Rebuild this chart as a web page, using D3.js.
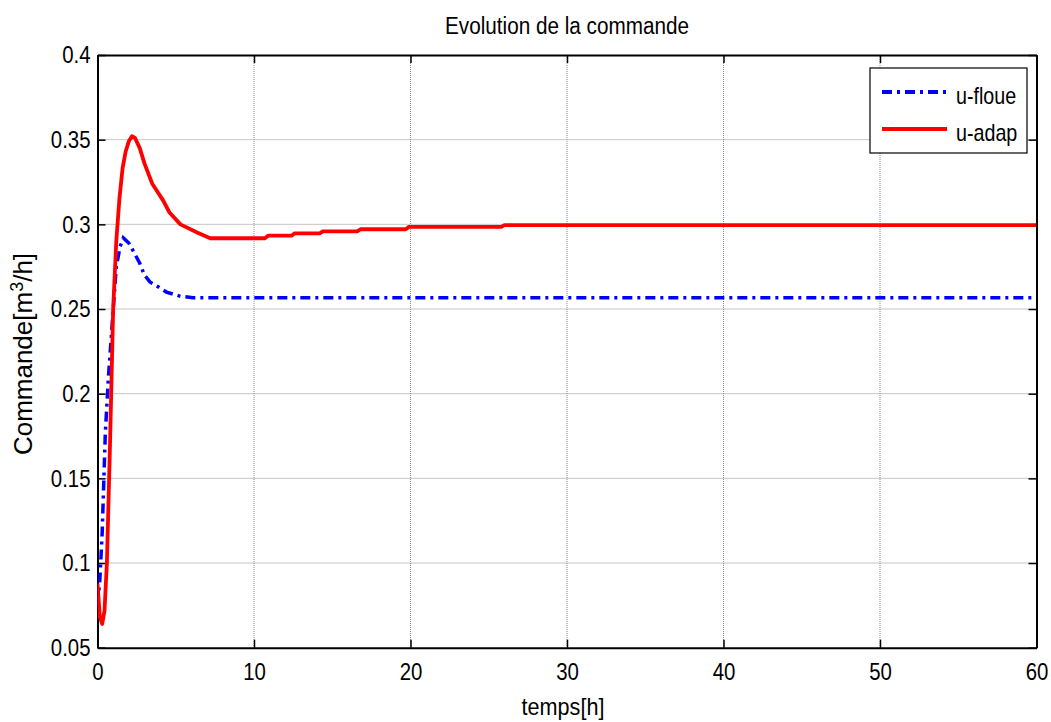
<!DOCTYPE html>
<html>
<head>
<meta charset="utf-8">
<script src="https://d3js.org/d3.v7.min.js"></script>
<style>
  body { margin: 0; background: #fff; }
  text { font-family: "Liberation Sans", Arial, sans-serif; fill: #000; }
</style>
</head>
<body>
<script>
// u-adap (red, solid)
var tAdap = [0, 0.15, 0.3, 0.45, 0.6, 0.8, 1.0, 1.2, 1.4, 1.6, 1.8, 2.0, 2.2, 2.4, 2.7, 3.0, 3.5, 4.2, 4.6, 5.3, 6.4, 7.2,
             10.7, 10.9, 12.4, 12.6, 14.2, 14.4, 16.6, 16.8, 19.7, 19.9, 25.8, 26.0, 60];
var uAdap = [0.088, 0.068, 0.064, 0.072, 0.1, 0.17, 0.25, 0.29, 0.315, 0.333, 0.343, 0.349, 0.352, 0.351, 0.345, 0.336, 0.324, 0.314, 0.307, 0.300, 0.295, 0.2918,
             0.2918, 0.2933, 0.2933, 0.2947, 0.2947, 0.2959, 0.2959, 0.2971, 0.2971, 0.2985, 0.2985, 0.2995, 0.2995];
// u-floue (blue, dash-dot)
var tFloue = [0, 0.15, 0.3, 0.5, 0.7, 0.9, 1.2, 1.45, 1.65, 2.0, 2.3, 2.7, 3.0, 3.35, 3.9, 4.4, 5.3, 6.1, 60];
var uFloue = [0.075, 0.09, 0.118, 0.177, 0.21, 0.236, 0.275, 0.287, 0.292, 0.289, 0.284, 0.277, 0.270, 0.266, 0.263, 0.260, 0.2575, 0.2567, 0.2567];

var xTicks = [0, 10, 20, 30, 40, 50, 60];
var yTicks = [0.05, 0.1, 0.15, 0.2, 0.25, 0.3, 0.35, 0.4];
var yTickLabels = ["0.05", "0.1", "0.15", "0.2", "0.25", "0.3", "0.35", "0.4"];

var W = 1051, H = 722;
var mLeft = 97.5, mRight = 1036.5, mTop = 55, mBottom = 647.7;

var svg = d3.select("body").append("svg").attr("width", W).attr("height", H);

// squeeze text horizontally (reference font is narrow)
function condense(sel, f) {
  sel.each(function() {
    var L = this.getComputedTextLength();
    d3.select(this).attr("textLength", L * f).attr("lengthAdjust", "spacingAndGlyphs");
  });
}

var x = d3.scaleLinear().domain([0, 60]).range([mLeft, mRight]);
var y = d3.scaleLinear().domain([0.05, 0.4]).range([mBottom, mTop]);

// grid
var grid = svg.append("g");
grid.selectAll(".gx").data(xTicks.slice(1, -1)).enter().append("line")
  .attr("x1", d => x(d)).attr("x2", d => x(d)).attr("y1", mTop).attr("y2", mBottom)
  .attr("stroke", "#8c8c8c").attr("stroke-width", 1).attr("stroke-dasharray", "1,1");
grid.selectAll(".gy").data(yTicks.slice(1, -1)).enter().append("line")
  .attr("y1", d => y(d)).attr("y2", d => y(d)).attr("x1", mLeft).attr("x2", mRight)
  .attr("stroke", "#8c8c8c").attr("stroke-width", 1).attr("stroke-dasharray", "1,1");

// axes (ticks inside, on all sides)
var xAxis = svg.append("g").attr("transform", "translate(0," + mBottom + ")")
  .call(d3.axisBottom(x).tickValues(xTicks).tickSizeInner(-8).tickSizeOuter(0).tickPadding(15).tickFormat(d3.format("d")));
var xAxisTop = svg.append("g").attr("transform", "translate(0," + mTop + ")")
  .call(d3.axisTop(x).tickValues(xTicks).tickSizeInner(-8).tickSizeOuter(0).tickFormat(""));
var yAxis = svg.append("g").attr("transform", "translate(" + mLeft + ",0)")
  .call(d3.axisLeft(y).tickValues(yTicks).tickSizeInner(-8).tickSizeOuter(0).tickPadding(7)
    .tickFormat((d, i) => yTickLabels[i]));
var yAxisR = svg.append("g").attr("transform", "translate(" + mRight + ",0)")
  .call(d3.axisRight(y).tickValues(yTicks).tickSizeInner(-8).tickSizeOuter(0).tickFormat(""));

[xAxis, xAxisTop, yAxis, yAxisR].forEach(function(a) {
  a.select(".domain").attr("stroke", "#000").attr("stroke-width", 2);
  a.selectAll(".tick line").attr("stroke", "#000").attr("stroke-width", 1.5);
  a.selectAll(".tick text").style("font-size", "24px").attr("fill", "#000")
    .style("font-family", "'Liberation Sans', Arial, sans-serif");
});
xAxis.selectAll(".tick text").attr("dy", "0.71em");
condense(xAxis.selectAll(".tick text"), 0.85);
condense(yAxis.selectAll(".tick text"), 0.85);

// clip
svg.append("clipPath").attr("id", "clip").append("rect")
  .attr("x", mLeft).attr("y", mTop).attr("width", mRight - mLeft).attr("height", mBottom - mTop);

var line = d3.line().x(d => x(d[0])).y(d => y(d[1]));

svg.append("path").datum(d3.zip(tFloue, uFloue))
  .attr("clip-path", "url(#clip)")
  .attr("d", line).attr("fill", "none").attr("stroke", "#0000ff")
  .attr("stroke-width", 3.5).attr("stroke-dasharray", "10,5,3,5");

svg.append("path").datum(d3.zip(tAdap, uAdap))
  .attr("clip-path", "url(#clip)")
  .attr("d", line).attr("fill", "none").attr("stroke", "#ff0000")
  .attr("stroke-width", 3.8).attr("stroke-linejoin", "round");

// title and labels
var title = svg.append("text").attr("x", (mLeft + mRight) / 2).attr("y", 33.5).attr("text-anchor", "middle")
  .style("font-size", "23px").text("Evolution de la commande");
condense(title, 0.9);
var xl = svg.append("text").attr("x", (mLeft + mRight) / 2 - 4).attr("y", 715).attr("text-anchor", "middle")
  .style("font-size", "24px").text("temps[h]");
condense(xl, 0.9);
var yl = svg.append("text").attr("transform", "translate(32,354) rotate(-90)")
  .attr("text-anchor", "middle").style("font-size", "26px");
yl.append("tspan").text("Commande[m");
yl.append("tspan").attr("dy", -9).style("font-size", "18px").text("3");
yl.append("tspan").attr("dy", 9).text("/h]");

// legend
var leg = svg.append("g");
leg.append("rect").attr("x", 870).attr("y", 68).attr("width", 157).attr("height", 85)
  .attr("fill", "#fff").attr("stroke", "#000").attr("stroke-width", 1.2);
var legItems = [
  { name: "u-floue", color: "#0000ff", dash: "10,5,3,5" },
  { name: "u-adap", color: "#ff0000", dash: null }
];
legItems.forEach(function(it, i) {
  var yy = 92 + i * 37;
  leg.append("line").attr("x1", 882).attr("x2", 947).attr("y1", yy).attr("y2", yy)
    .attr("stroke", it.color).attr("stroke-width", 3.8).attr("stroke-dasharray", it.dash);
  var t = leg.append("text").attr("x", 956).attr("y", yy + 11.5).style("font-size", "24px").text(it.name);
  condense(t, 0.82);
});
</script>
</body>
</html>
